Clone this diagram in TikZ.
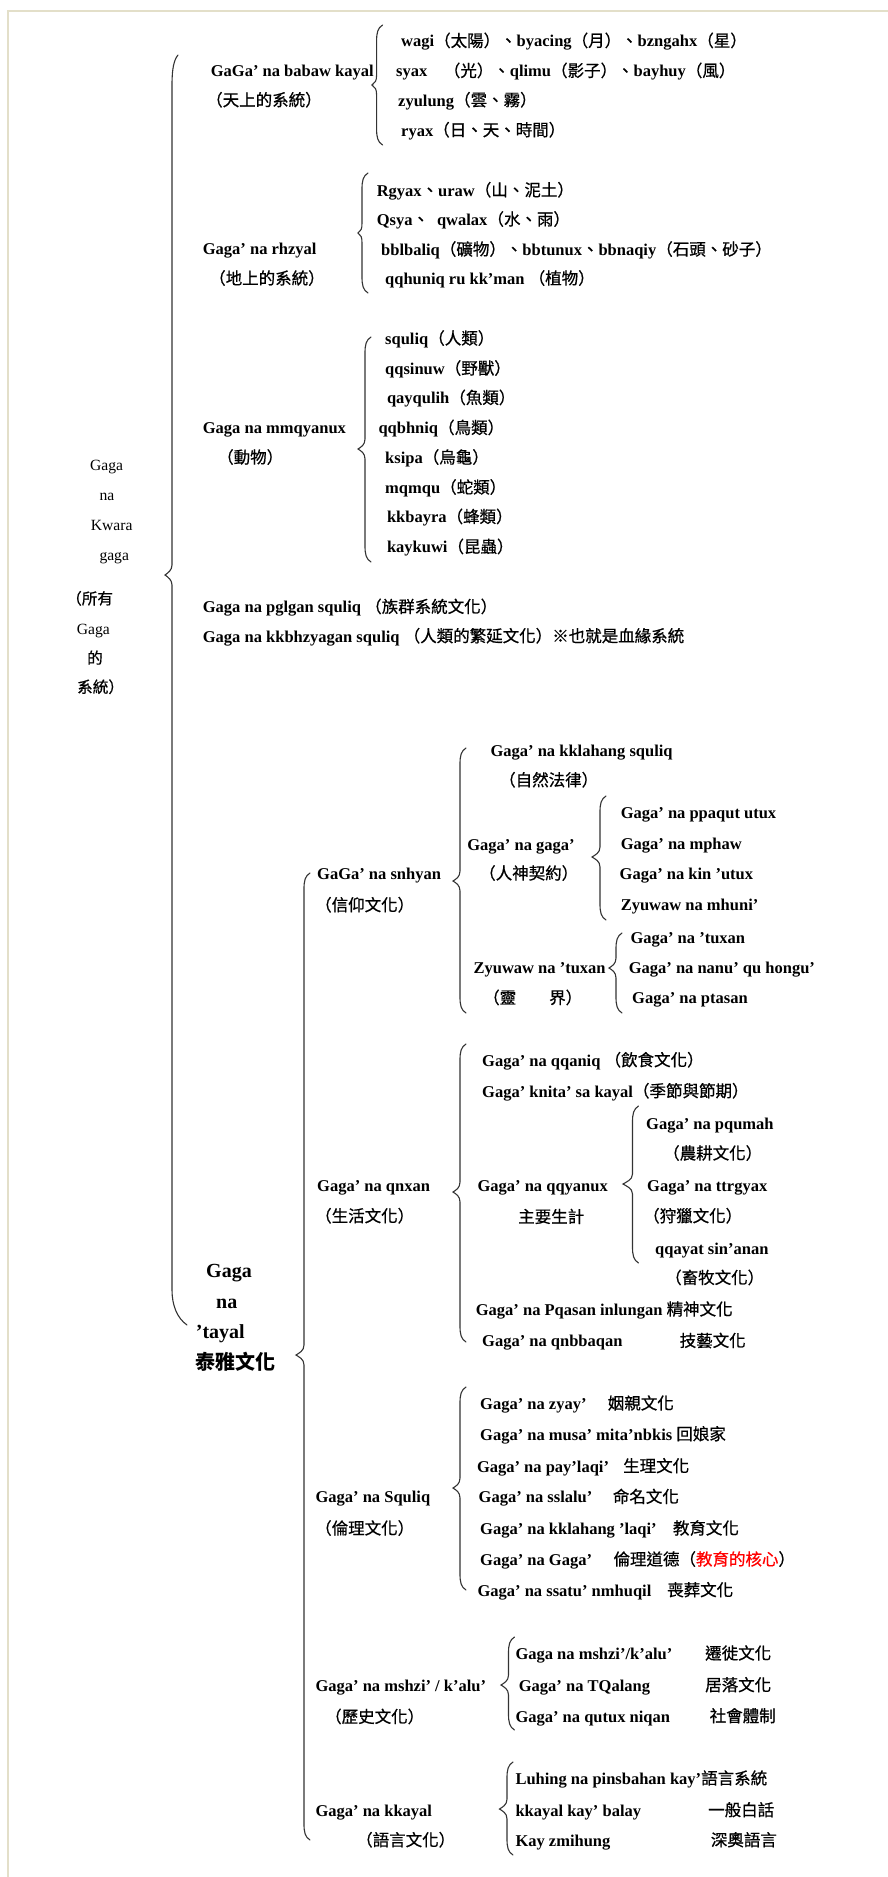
\documentclass[tikz,border=0pt]{standalone}
\usepackage{fontspec}
\setmainfont{Liberation Serif}
\newfontfamily\cjk[FakeBold=0.7]{Noto Sans CJK TC}
\newfontfamily\cjkb{Noto Sans CJK TC}
\newcommand{\zh}[1]{{\cjk\mdseries #1}}
\newcommand{\zhb}[1]{{\cjkb #1}}
\definecolor{framec}{HTML}{E3DFC9}
\definecolor{bracec}{HTML}{333333}
\definecolor{redc}{HTML}{FF0000}
\tikzset{
 txt/.style={anchor=base west, inner sep=0pt, font=\bfseries\fontsize{16.5}{18}\selectfont, text=black},
 lbl/.style={anchor=base west, inner sep=0pt, font=\fontsize{15.6}{18}\selectfont, text=black},
 big/.style={anchor=base west, inner sep=0pt, font=\bfseries\fontsize{20}{22}\selectfont, text=black},
 brc/.style={draw=bracec, line width=1.1pt, line cap=round},
 framel/.style={draw=framec, line width=2.3pt}
}
\newcommand{\tx}[5][txt]{\node[#1] (#2) at (#3,#4+6) {#5};}
\newcommand{\mybrace}[5]{\draw[brc] (#1+6,#2) .. controls (#1+1,#2+3) and (#1,#2+8) .. (#1,#2+16) -- (#1,#3-10) .. controls (#1,#3-4) and (#5+3,#3-2) .. (#5,#3) .. controls (#5+3,#3+2) and (#1,#3+4) .. (#1,#3+10) -- (#1,#4-16) .. controls (#1,#4-8) and (#1+1,#4-3) .. (#1+6,#4);}
\begin{document}
\begin{tikzpicture}[x=1pt,y=-1pt]
\path[use as bounding box] (0,0) rectangle (888,1877);
\draw[framel] (8,1877) -- (8,11) -- (888,11);
% braces
\draw[brc] (178,55) .. controls (174,60) and (172,68) .. (172,85) -- (172,565) .. controls (172,570) and (168,573) .. (165,575) .. controls (168,577) and (172,580) .. (172,585) -- (172,1290) .. controls (172,1305) and (177,1318) .. (187,1325);
\mybrace{376.6}{25}{85}{145}{372}
\mybrace{362}{173}{233}{293}{358}
\mybrace{365}{337}{449}{562}{358}
\mybrace{304}{873}{1355}{1840}{296}
\mybrace{460}{748}{881}{1013}{453}
\mybrace{600}{796}{857}{920}{592}
\mybrace{616}{933}{968}{1013}{609}
\mybrace{460}{1044}{1192}{1342}{453}
\mybrace{632.5}{1106}{1184}{1263}{623}
\mybrace{460}{1387}{1488}{1590}{453}
\mybrace{508.5}{1637}{1685}{1730}{501}
\mybrace{507}{1762}{1809}{1855}{499.5}
% left label
\tx[lbl]{l1}{90}{464.3}{Gaga}
\tx[lbl]{l2}{99.3}{494}{na}
\tx[lbl]{l3}{90.7}{524}{Kwara}
\tx[lbl]{l4}{99.3}{554}{gaga}
\tx[lbl]{l5}{66}{598.3}{\zh{（所有}}
\tx[lbl]{l6}{76.7}{628.3}{Gaga}
\tx[lbl]{l7}{87}{657.7}{\zh{的}}
\tx[lbl]{l8}{77}{686.7}{\zh{系統）}}
% sky
\tx{a1}{210.7}{70}{GaGa’ na babaw kayal}
\tx{a2}{206}{100}{\zh{（天上的系統）}}
\tx{a11}{401}{40.7}{wagi\zh{（太陽）、}byacing\zh{（月）、}bzngahx\zh{（星）}}
\tx{a12}{396}{70.7}{syax\zh{　（光）、}qlimu\zh{（影子）、}bayhuy\zh{（風）}}
\tx{a13}{398}{100}{zyulung\zh{（雲、霧）}}
\tx{a14}{401}{130}{ryax\zh{（日、天、時間）}}
% earth
\tx{b1}{202.7}{248.3}{Gaga’ na rhzyal}
\tx{b2}{209}{278.3}{\zh{（地上的系統）}}
\tx{b11}{376.6}{190}{Rgyax\zh{、}uraw\zh{（山、泥土）}}
\tx{b12}{376.6}{219.3}{Qsya\zh{、}\hspace{8pt}qwalax\zh{（水、雨）}}
\tx{b13}{381}{249.3}{bblbaliq\zh{（礦物）、}bbtunux\zh{、}bbnaqiy\zh{（石頭、砂子）}}
\tx{b14}{385}{278.3}{qqhuniq ru kk’man \zh{（植物）}}
% animals
\tx{c1}{202.7}{427.7}{Gaga na mmqyanux}
\tx{c2}{217}{457.3}{\zh{（動物）}}
\tx{c11}{385}{338.3}{squliq\zh{（人類）}}
\tx{c12}{385}{368.3}{qqsinuw\zh{（野獸）}}
\tx{c13}{386.8}{397.7}{qayqulih\zh{（魚類）}}
\tx{c14}{378.3}{427.7}{qqbhniq\zh{（鳥類）}}
\tx{c15}{385}{457.3}{ksipa\zh{（烏龜）}}
\tx{c16}{385}{487.3}{mqmqu\zh{（蛇類）}}
\tx{c17}{386.8}{516.7}{kkbayra\zh{（蜂類）}}
\tx{c18}{386.8}{546.7}{kaykuwi\zh{（昆蟲）}}
\tx{d1}{202.7}{606.7}{Gaga na pglgan squliq \zh{（族群系統文化）}}
\tx{d2}{202.7}{636}{Gaga na kkbhzyagan squliq \zh{（人類的繁延文化）※也就是血緣系統}}
% tayal
\tx[big]{t1}{206}{1271}{Gaga}
\tx[big]{t2}{216}{1302.3}{na}
\tx[big]{t3}{195.7}{1332.3}{’tayal}
\tx[big]{t4}{195.7}{1363.3}{\zhb{泰雅文化}}
% belief
\tx{e1}{317}{873.3}{GaGa’ na snhyan}
\tx{e2}{315}{905}{\zh{（信仰文化）}}
\tx{e11}{490.4}{750}{Gaga’ na kklahang squliq}
\tx{e12}{499}{780}{\zh{（自然法律）}}
\tx{e21}{467.2}{844}{Gaga’ na gaga’}
\tx{e22}{479}{873.3}{\zh{（人神契約）}}
\tx{e211}{620.6}{812.7}{Gaga’ na ppaqut utux}
\tx{e212}{620.6}{843.3}{Gaga’ na mphaw}
\tx{e213}{619.5}{873.3}{Gaga’ na kin ’utux}
\tx{e214}{620.6}{904.3}{Zyuwaw na mhuni’}
\tx{e31}{473.4}{967.7}{Zyuwaw na ’tuxan}
\tx{e32}{483}{997.7}{\zh{（靈　　界）}}
\tx{e311}{630.3}{937.7}{Gaga’ na ’tuxan}
\tx{e312}{628.6}{967.7}{Gaga’ na nanu’ qu hongu’}
\tx{e313}{632}{997.3}{Gaga’ na ptasan}
% life
\tx{f1}{317}{1185.7}{Gaga’ na qnxan}
\tx{f2}{315}{1216}{\zh{（生活文化）}}
\tx{f11}{482}{1060}{Gaga’ na qqaniq \zh{（飲食文化）}}
\tx{f12}{482}{1091}{Gaga’ knita’ sa kayal\zh{（季節與節期）}}
\tx{f13}{477.4}{1185.7}{Gaga’ na qqyanux}
\tx{f14}{518}{1216.7}{\zh{主要生計}}
\tx{f131}{646}{1123.3}{Gaga’ na pqumah}
\tx{f132}{663}{1153.3}{\zh{（農耕文化）}}
\tx{f133}{647}{1185.7}{Gaga’ na ttrgyax}
\tx{f134}{643}{1216}{\zh{（狩獵文化）}}
\tx{f135}{655}{1248.3}{qqayat sin’anan}
\tx{f136}{665}{1277.7}{\zh{（畜牧文化）}}
\tx{f15}{475.7}{1309.3}{Gaga’ na Pqasan inlungan \zh{精神文化}}
\tx{f16}{482}{1340.7}{Gaga’ na qnbbaqan}
\tx{f16z}{679.5}{1340.7}{\zh{技藝文化}}
% ethics
\tx{g1}{315.4}{1496.7}{Gaga’ na Squliq}
\tx{g2}{315}{1528.3}{\zh{（倫理文化）}}
\tx{g11}{480}{1403.3}{Gaga’ na zyay’}
\tx{g11z}{607.6}{1403.3}{\zh{姻親文化}}
\tx{g12}{480}{1434}{Gaga’ na musa’ mita’nbkis \zh{回娘家}}
\tx{g13}{476.8}{1466}{Gaga’ na pay’laqi’}
\tx{g13z}{623}{1466}{\zh{生理文化}}
\tx{g14}{478.5}{1496.7}{Gaga’ na sslalu’}
\tx{g14z}{612.7}{1496.7}{\zh{命名文化}}
\tx{g15}{480}{1528.3}{Gaga’ na kklahang ’laqi’}
\tx{g15z}{672.7}{1528.3}{\zh{教育文化}}
\tx{g16}{480}{1559.3}{Gaga’ na Gaga’}
\tx{g16z}{613.3}{1559.3}{\zh{倫理道德（\textcolor{redc}{教育的核心}）}}
\tx{g17}{477.4}{1590}{Gaga’ na ssatu’ nmhuqil}
\tx{g17z}{667}{1590}{\zh{喪葬文化}}
% history
\tx{h1}{315.4}{1685}{Gaga’ na mshzi’ / k’alu’}
\tx{h2}{325}{1716.7}{\zh{（歷史文化）}}
\tx{h11}{515.3}{1653.3}{Gaga na mshzi’/k’alu’}
\tx{h11z}{705}{1653.3}{\zh{遷徙文化}}
\tx{h12}{518.7}{1685}{Gaga’ na TQalang}
\tx{h12z}{705}{1685}{\zh{居落文化}}
\tx{h13}{515.3}{1716}{Gaga’ na qutux niqan}
\tx{h13z}{709.5}{1716}{\zh{社會體制}}
% language
\tx{k1}{315.4}{1810}{Gaga’ na kkayal}
\tx{k2}{356}{1840}{\zh{（語言文化）}}
\tx{k11}{515.3}{1778.3}{Luhing na pinsbahan kay’\zh{語言系統}}
\tx{k12}{515.3}{1810}{kkayal kay’ balay}
\tx{k12z}{708}{1810}{\zh{一般白話}}
\tx{k13}{515.3}{1840}{Kay zmihung}
\tx{k13z}{710.7}{1840}{\zh{深奧語言}}
\end{tikzpicture}
\end{document}
